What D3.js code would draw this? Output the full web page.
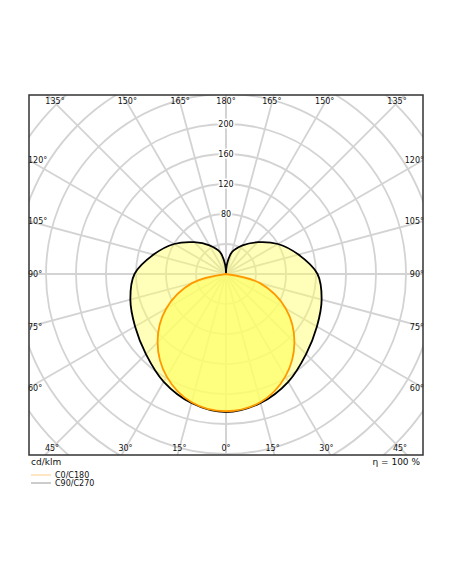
<!DOCTYPE html>
<html><head><meta charset="utf-8">
<script src="https://cdn.jsdelivr.net/npm/d3@7"></script>
<style>body{margin:0;background:#fff;font-family:"DejaVu Sans",sans-serif}</style>
</head><body><svg id="c" width="452" height="584"></svg>
<script>
// Polar intensity values (cd/klm), angle 0 = straight down
var angles = [0, 15, 30, 45, 60, 75, 90, 105, 120, 135, 150, 165, 175, 180];
var c0c180 = [183, 177, 158, 129, 92, 47, 0, 0, 0, 0, 0, 0, 0, 0];
var c90c270 = [184, 178, 166, 151, 140, 132, 122, 100, 80, 60, 44, 30, 12, 0];
var ringTicks = [80, 120, 160, 200];
var spokes = [0, 15, 30, 45, 60, 75, 90, 105, 120, 135, 150, 165, 180];

var svg = d3.select("#c");
var L = 29, T = 95, R = 423, B = 455, cx = 226, cy = 274;
var r = d3.scaleLinear().domain([0, 40]).range([0, 30]);

svg.append("clipPath").attr("id", "clip").append("rect")
  .attr("x", L).attr("y", T).attr("width", R - L).attr("height", B - T);
var g = svg.append("g").attr("clip-path", "url(#clip)");

// grid circles
for (var v = 40; v <= 440; v += 40) {
  g.append("circle").attr("cx", cx).attr("cy", cy).attr("r", r(v))
    .attr("fill", "none").attr("stroke", "#d3d3d3").attr("stroke-width", 1.8);
}
// point for angle a (deg) on side s (-1 left, 1 right)
function pt(a, v, s) {
  var t = a * Math.PI / 180;
  return [cx + s * r(v) * Math.sin(t), cy + r(v) * Math.cos(t)];
}
spokes.forEach(function(a) {
  [-1, 1].forEach(function(s) {
    var p = pt(a, 600, s);
    g.append("line").attr("x1", cx).attr("y1", cy).attr("x2", p[0]).attr("y2", p[1])
      .attr("stroke", "#d3d3d3").attr("stroke-width", 1.8);
  });
});

function shape(vals) {
  var pts = [];
  angles.forEach(function(a, i) { pts.push(pt(a, vals[i], 1)); });
  for (var i = angles.length - 1; i >= 0; i--) pts.push(pt(angles[i], vals[i], -1));
  return d3.line().curve(d3.curveCatmullRomClosed)(pts.slice(0, -1));
}
g.append("path").attr("d", shape(c90c270)).attr("fill", "#ffff66").attr("fill-opacity", 0.45)
  .attr("stroke", "#000").attr("stroke-width", 1.8);
g.append("path").attr("d", shape(c0c180)).attr("fill", "#ffff66").attr("fill-opacity", 0.7)
  .attr("stroke", "#ff9900").attr("stroke-width", 1.8);

// ring labels
ringTicks.forEach(function(v) {
  svg.append("text").attr("x", cx).attr("y", cy - r(v) + 3).attr("text-anchor", "middle")
    .attr("font-size", 8).attr("paint-order", "stroke").attr("stroke", "#fff").attr("stroke-width", 3)
    .attr("fill", "#111").text(v);
});

// angle labels at frame edge
var lab = function(x, y, t, anchor) {
  svg.append("text").attr("x", x).attr("y", y).attr("text-anchor", anchor || "middle")
    .attr("font-size", 8).attr("fill", "#111").text(t);
};
[135, 150, 165, 180].forEach(function(a) {
  [-1, 1].forEach(function(s) {
    if (a === 180 && s === 1) return;
    var k = (T + 8 - cy) / Math.cos(a * Math.PI / 180);
    lab(cx + s * k * Math.sin(a * Math.PI / 180), T + 9, a + "°");
  });
});
[0, 15, 30, 45].forEach(function(a) {
  [-1, 1].forEach(function(s) {
    if (a === 0 && s === 1) return;
    var k = (B - 7 - cy) / Math.cos(a * Math.PI / 180);
    lab(cx + s * k * Math.sin(a * Math.PI / 180), B - 4, a + "°");
  });
});
[60, 75, 90, 105, 120].forEach(function(a) {
  var dx = R - cx;
  var y = cy - dx / Math.tan(a * Math.PI / 180) * -1;
  y = cy + dx / Math.tan(a * Math.PI / 180);
  lab(L - 1, y + 3, a + "°", "start");
  lab(R + 1, y + 3, a + "°", "end");
});

svg.append("rect").attr("x", L).attr("y", T).attr("width", R - L).attr("height", B - T)
  .attr("fill", "none").attr("stroke", "#333").attr("stroke-width", 1.5);

lab(31, 465, "cd/klm", "start");
svg.select("text:last-child").attr("font-size", 9);
lab(420, 465, "η = 100 %", "end");
svg.select("text:last-child").attr("font-size", 9);

svg.append("line").attr("x1", 31).attr("x2", 51).attr("y1", 475).attr("y2", 475).attr("stroke", "#ffcc88");
svg.append("line").attr("x1", 31).attr("x2", 51).attr("y1", 483).attr("y2", 483).attr("stroke", "#999");
lab(55, 478, "C0/C180", "start");
lab(55, 486, "C90/C270", "start");
</script></body></html>
